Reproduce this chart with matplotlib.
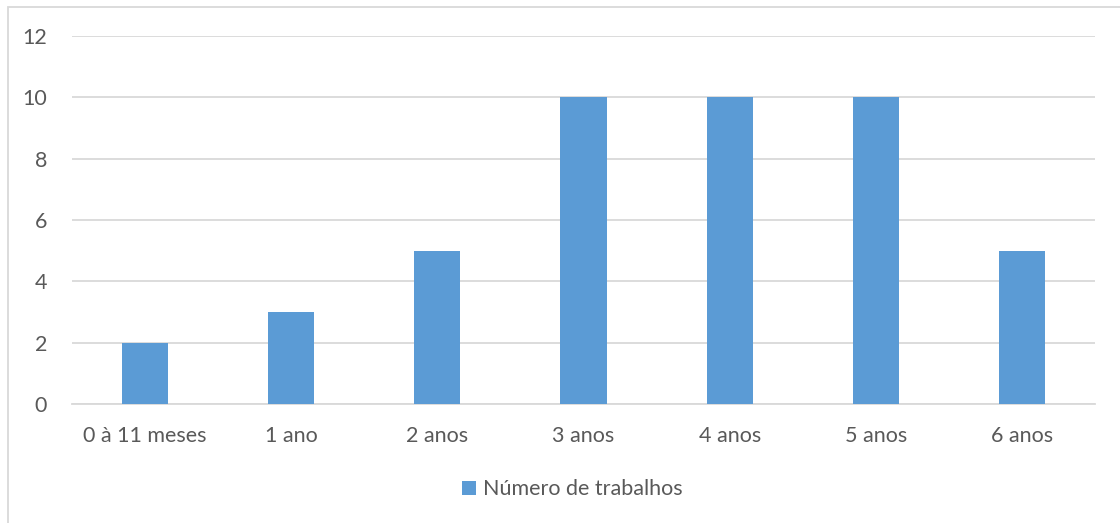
import matplotlib.pyplot as plt
from matplotlib.patches import Rectangle

categories = ['0 à 11 meses', '1 ano', '2 anos', '3 anos', '4 anos', '5 anos', '6 anos']
trabalhos = [2, 3, 5, 10, 10, 10, 5]
yticks = [0, 2, 4, 6, 8, 10, 12]

plt.rcParams['font.family'] = ['Lato', 'DejaVu Sans']
text_color = '#595959'
grid_color = '#d9d9d9'

fig = plt.figure(figsize=(11.2, 5.23), dpi=100)
ax = fig.add_axes([72 / 1120, 1 - 404 / 523, (1095 - 72) / 1120, (404 - 36) / 523])

x = range(len(categories))
ax.bar(x, trabalhos, width=0.315, color='#5b9bd5', label='Número de trabalhos', zorder=3)

ax.set_xlim(-0.5, len(categories) - 0.5)
ax.set_ylim(0, 12)
ax.set_yticks(yticks)
ax.set_xticks(list(x))
ax.set_xticklabels(categories)
ax.yaxis.grid(True, color=grid_color, linewidth=1.3, zorder=0)
for side in ['top', 'right', 'left']:
    ax.spines[side].set_visible(False)
ax.spines['bottom'].set_color(grid_color)
ax.spines['bottom'].set_linewidth(1.3)
ax.tick_params(axis='both', length=0, labelsize=15.5, labelcolor=text_color)
ax.tick_params(axis='x', pad=16)
ax.tick_params(axis='y', pad=18)

ax.legend(loc='center', bbox_to_anchor=(0.489, -0.232), frameon=False, fontsize=15.5,
          labelcolor=text_color, handlelength=0.65, handleheight=0.65, handletextpad=0.35)

# chart frame
fig.patches.append(Rectangle((8 / 1120, -0.05), 1.1, 1.05 - 7 / 523, transform=fig.transFigure,
                             fill=False, edgecolor=grid_color, linewidth=1.3))

fig.savefig('out.png', dpi=100)
